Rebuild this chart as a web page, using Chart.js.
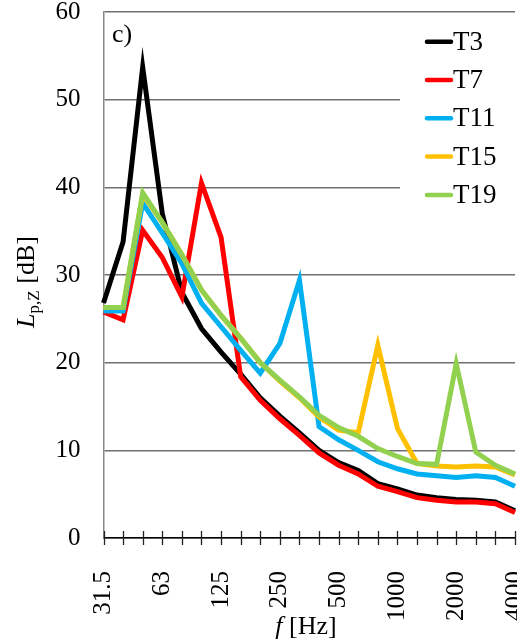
<!DOCTYPE html>
<html><head><meta charset="utf-8">
<script src="https://cdn.jsdelivr.net/npm/chart.js@4"></script>
<style>
html,body{margin:0;padding:0;background:#fff;overflow:hidden;width:517px;height:640px}
#wrap{position:relative;width:530px;height:640px}
</style>
</head><body><div id="wrap"><canvas id="c" width="530" height="640"></canvas></div>
<script>
// 1/3-octave band centre frequencies (Hz)
const frequencies = ['31.5','40','50','63','80','100','125','160','200','250','315','400','500','630','800','1000','1250','1600','2000','2500','3150','4000'];
const shownTicks = ['31.5','63','125','250','500','1000','2000','4000'];
const yTicks = [0, 10, 20, 30, 40, 50, 60];
const seriesNames = ['T3', 'T7', 'T11', 'T15', 'T19'];
const T3  = [26.8, 33.8, 53.7, 37.0, 28.0, 23.9, 21.2, 18.7, 16.0, 13.9, 12.0, 10.0, 8.6, 7.7, 6.2, 5.6, 4.9, 4.6, 4.4, 4.3, 4.1, 3.1];
const T7  = [25.8, 24.9, 35.1, 32.0, 27.5, 40.5, 34.3, 18.4, 15.7, 13.6, 11.7, 9.7, 8.3, 7.3, 5.9, 5.3, 4.6, 4.3, 4.1, 4.1, 3.9, 2.9];
const T11 = [25.9, 25.9, 38.2, 34.8, 31.3, 26.8, 24.1, 21.4, 18.8, 22.2, 29.4, 12.7, 11.2, 10.0, 8.7, 7.9, 7.3, 7.1, 6.9, 7.1, 6.9, 5.9];
const T15 = [26.3, 26.3, 39.2, 36.0, 32.3, 28.3, 25.4, 22.8, 20.0, 17.9, 16.0, 13.8, 12.3, 12.0, 22.0, 12.5, 8.5, 8.2, 8.1, 8.2, 8.1, 7.2];
const T19 = [26.3, 26.3, 39.4, 36.0, 32.3, 28.3, 25.4, 22.8, 20.0, 18.0, 16.1, 14.0, 12.6, 11.6, 10.2, 9.3, 8.5, 8.4, 19.9, 9.8, 8.3, 7.3];
const seriesValues = [T3, T7, T11, T15, T19];
const seriesColors = ['#000000', '#ff0000', '#00b0f0', '#ffc000', '#92d050'];

const FONT = '"Liberation Serif","Times New Roman",serif';

const deco = {
  id: 'deco',
  afterDraw(chart) {
    const ctx = chart.ctx, xs = chart.scales.x, ca = chart.chartArea;
    ctx.save();
    // x tick marks crossing the axis
    ctx.strokeStyle = '#222'; ctx.lineWidth = 1.3;
    for (let i = 0; i < frequencies.length; i++) {
      const x = Math.round(xs.getPixelForValue(i)) + 0.5;
      ctx.beginPath(); ctx.moveTo(x, ca.bottom - 7); ctx.lineTo(x, ca.bottom + 7); ctx.stroke();
    }
    // legend
    ctx.fillStyle = '#fff';
    ctx.fillRect(400, ca.top + 2, chart.width - 400, 218);
    chart.data.datasets.forEach((ds, i) => {
      const y = 41.7 + 38.3 * i;
      ctx.strokeStyle = ds.borderColor; ctx.lineWidth = 4.5; ctx.lineCap = 'round';
      ctx.beginPath(); ctx.moveTo(427, y); ctx.lineTo(451, y); ctx.stroke();
      ctx.fillStyle = '#000'; ctx.font = '27px ' + FONT;
      ctx.textBaseline = 'middle'; ctx.textAlign = 'left';
      ctx.fillText(ds.label, 453, y + 1);
    });
    // panel label
    ctx.font = '26px ' + FONT; ctx.textBaseline = 'alphabetic'; ctx.textAlign = 'left';
    ctx.fillText('c)', 112, 42);
    // y title
    ctx.save();
    ctx.font = 'italic 26px ' + FONT; const wL = ctx.measureText('L').width;
    ctx.font = '17px ' + FONT; const wS = ctx.measureText('p,Z').width;
    ctx.font = '26px ' + FONT; const wD = ctx.measureText(' [dB]').width;
    const tot = wL + wS + wD;
    ctx.translate(34, 282 + tot / 2); ctx.rotate(-Math.PI / 2);
    ctx.font = 'italic 26px ' + FONT; ctx.fillText('L', 0, 0);
    ctx.font = '17px ' + FONT; ctx.fillText('p,Z', wL, 5);
    ctx.font = '26px ' + FONT; ctx.fillText(' [dB]', wL + wS, 0);
    ctx.restore();
    // x title
    ctx.font = 'italic 26px ' + FONT; const wf = ctx.measureText('f').width;
    ctx.font = '26px ' + FONT; const wh = ctx.measureText(' [Hz]').width;
    const x0 = 306 - (wf + wh) / 2;
    ctx.font = 'italic 26px ' + FONT; ctx.fillText('f', x0, 634);
    ctx.font = '26px ' + FONT; ctx.fillText(' [Hz]', x0 + wf, 634);
    ctx.restore();
  }
};

new Chart(document.getElementById('c'), {
  type: 'line',
  data: {
    labels: frequencies,
    datasets: seriesNames.map((n, i) => ({
      label: n,
      data: seriesValues[i],
      borderColor: seriesColors[i],
      backgroundColor: seriesColors[i],
      borderWidth: 5,
      pointRadius: 0,
      tension: 0,
      fill: false,
      borderJoinStyle: 'miter',
      order: seriesNames.length - i
    }))
  },
  options: {
    responsive: false,
    devicePixelRatio: 1,
    animation: false,
    layout: { padding: { left: 0, right: 15, top: 12, bottom: 0 } },
    plugins: { legend: { display: false }, tooltip: { enabled: false } },
    scales: {
      x: {
        type: 'category',
        offset: false,
        grid: { display: false },
        border: { display: true, color: '#000', width: 1.5 },
        ticks: {
          autoSkip: false, minRotation: 90, maxRotation: 90, padding: 25,
          color: '#000', font: { family: FONT, size: 25 },
          callback: function (v, i) { const l = frequencies[i]; return shownTicks.includes(l) ? l : ''; }
        },
        afterFit(s) { s.height = 102; s.paddingLeft = 0; s.paddingRight = 0; }
      },
      y: {
        min: 0, max: 60,
        afterBuildTicks(s) { s.ticks = yTicks.map(v => ({ value: v })); },
        grid: { color: '#707070', lineWidth: 1.5, drawTicks: false },
        border: { display: true, color: '#888', width: 1.5 },
        ticks: { padding: 23, color: '#000', font: { family: FONT, size: 25, lineHeight: 1 } },
        afterFit(s) { s.width = 103.5; s.paddingTop = 0; s.paddingBottom = 0; }
      }
    }
  },
  plugins: [deco]
});
</script>
</body></html>
